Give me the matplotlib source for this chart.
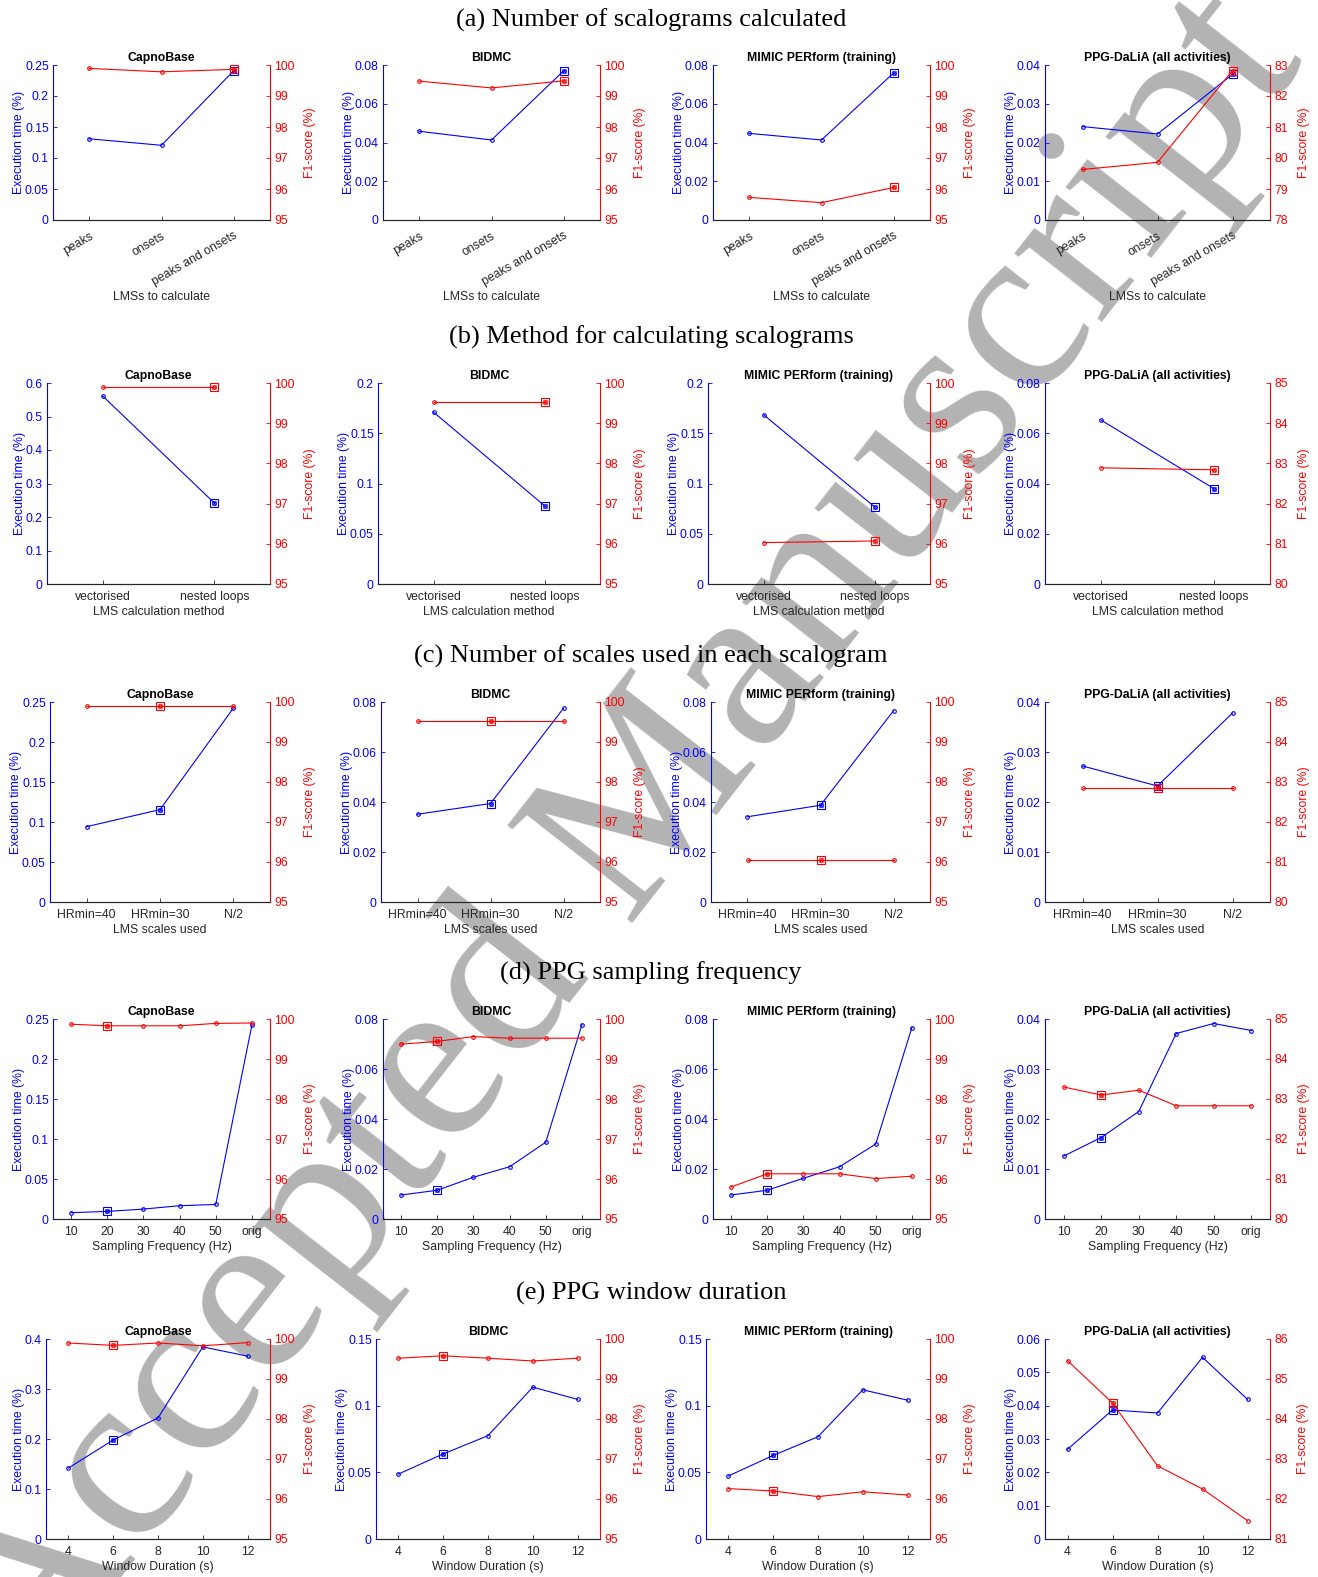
import matplotlib
matplotlib.use('Agg')
import matplotlib.pyplot as plt
from matplotlib.ticker import FuncFormatter

W, H = 1318, 1577
BLUE = '#0000ff'
RED = '#ff0000'
DARK = '#262626'
SANS = ['Liberation Sans', 'DejaVu Sans']
SERIF = ['Liberation Serif', 'DejaVu Serif']

plt.rcParams['font.family'] = SANS
plt.rcParams['font.size'] = 8.8

datasets = ['CapnoBase', 'BIDMC', 'MIMIC PERform (training)', 'PPG-DaLiA (all activities)']

# (a) number of scalograms calculated
lms_cats = ['peaks', 'onsets', 'peaks and onsets']
lms_time = [[0.131, 0.1205, 0.241], [0.0458, 0.0413, 0.0771],
            [0.0447, 0.0413, 0.0760], [0.0241, 0.0222, 0.0376]]
lms_f1 = [[99.89, 99.78, 99.86], [99.48, 99.26, 99.49],
          [95.73, 95.56, 96.05], [79.63, 79.86, 82.82]]
lms_sel = 2

# (b) method for calculating scalograms
meth_cats = ['vectorised', 'nested loops']
meth_time = [[0.561, 0.242], [0.171, 0.0779], [0.1685, 0.0768], [0.0652, 0.0380]]
meth_f1 = [[99.89, 99.89], [99.53, 99.53], [96.03, 96.07], [82.89, 82.84]]
meth_sel = 1

# (c) number of scales used in each scalogram
scale_cats = ['HRmin=40', 'HRmin=30', 'N/2']
scale_time = [[0.0942, 0.1155, 0.2423], [0.0351, 0.0394, 0.0775],
              [0.0341, 0.0387, 0.0765], [0.0272, 0.0232, 0.0378]]
scale_f1 = [[99.91, 99.91, 99.91], [99.53, 99.53, 99.53],
            [96.06, 96.06, 96.06], [82.84, 82.84, 82.84]]
scale_sel = 1

# (d) PPG sampling frequency
fs_cats = ['10', '20', '30', '40', '50', 'orig']
fs_time = [[0.0079, 0.0095, 0.0124, 0.0166, 0.0182, 0.2425],
           [0.0096, 0.0115, 0.0167, 0.0209, 0.0307, 0.0778],
           [0.0096, 0.0115, 0.0163, 0.0209, 0.0300, 0.0766],
           [0.0126, 0.0163, 0.0215, 0.0371, 0.0391, 0.0377]]
fs_f1 = [[99.87, 99.83, 99.83, 99.83, 99.89, 99.90],
         [99.37, 99.44, 99.56, 99.52, 99.52, 99.52],
         [95.80, 96.13, 96.13, 96.13, 96.01, 96.07],
         [83.30, 83.10, 83.22, 82.83, 82.83, 82.83]]
fs_sel = 1

# (e) PPG window duration
win_dur = [4, 6, 8, 10, 12]
win_time = [[0.1419, 0.198, 0.2422, 0.3842, 0.3657],
            [0.0487, 0.0638, 0.0775, 0.1139, 0.1047],
            [0.0473, 0.0627, 0.0767, 0.1119, 0.1041],
            [0.0269, 0.0387, 0.0378, 0.0545, 0.0419]]
win_f1 = [[99.90, 99.84, 99.90, 99.83, 99.91],
          [99.52, 99.58, 99.52, 99.45, 99.52],
          [96.26, 96.20, 96.06, 96.18, 96.10],
          [85.46, 84.40, 82.83, 82.25, 81.46]]
win_sel = 1

section_titles = ['(a) Number of scalograms calculated',
                  '(b) Method for calculating scalograms',
                  '(c) Number of scales used in each scalogram',
                  '(d) PPG sampling frequency',
                  '(e) PPG window duration']
xlabels = ['LMSs to calculate', 'LMS calculation method', 'LMS scales used',
           'Sampling Frequency (Hz)', 'Window Duration (s)']

# axis ranges: (max, step) for execution time, (lo, hi) for F1
time_axes = [
    [(0.25, 0.05), (0.08, 0.02), (0.08, 0.02), (0.04, 0.01)],
    [(0.6, 0.1), (0.2, 0.05), (0.2, 0.05), (0.08, 0.02)],
    [(0.25, 0.05), (0.08, 0.02), (0.08, 0.02), (0.04, 0.01)],
    [(0.25, 0.05), (0.08, 0.02), (0.08, 0.02), (0.04, 0.01)],
    [(0.4, 0.1), (0.15, 0.05), (0.15, 0.05), (0.06, 0.01)],
]
f1_axes = [
    [(95, 100)] * 3 + [(78, 83)],
    [(95, 100)] * 3 + [(80, 85)],
    [(95, 100)] * 3 + [(80, 85)],
    [(95, 100)] * 3 + [(80, 85)],
    [(95, 100)] * 3 + [(81, 86)],
]

# layout in pixels
row_tops = [65, 383, 702, 1019, 1339]
row_bots = [220, 584, 902, 1219, 1539]
title_y = [20, 337, 656, 973, 1293]
lefts = [[53, 383, 713, 1045], [47, 378, 708, 1045], [50, 381, 711, 1045],
         [53, 383, 713, 1045], [46, 376, 706, 1045]]
rights = [270, 600, 930, 1270]

fig = plt.figure(figsize=(W / 100, H / 100), dpi=100)

# watermark behind the panels
fig.text(622 / W, 1 - 842 / H, 'Accepted Manuscript', family=SERIF, fontsize=174,
         color='#b3b3b3', rotation=52, ha='center', va='center',
         rotation_mode='anchor', zorder=-10)

gfmt = FuncFormatter(lambda v, p: ('%g' % round(v, 6)))


def ticks(lo, hi, step):
    n = int(round((hi - lo) / step))
    return [lo + i * step for i in range(n + 1)]


def panel(r, c, x, xticks, xticklabels, xlim, t, f, sel, rot=0):
    l, rr = lefts[r][c], rights[c]
    rect = [l / W, 1 - row_bots[r] / H, (rr - l) / W, (row_bots[r] - row_tops[r]) / H]
    ax = fig.add_axes(rect)
    ax.set_facecolor('none')
    ax2 = ax.twinx()

    tmax, tstep = time_axes[r][c]
    flo, fhi = f1_axes[r][c]

    ax.plot(x, t, color=BLUE, lw=0.8, marker='o', ms=2.6, mfc='none', mew=0.8, zorder=3)
    ax.plot([x[sel]], [t[sel]], color=BLUE, marker='s', ms=5.5, mfc='none', mew=0.8, zorder=4)
    ax.plot([x[sel]], [t[sel]], color=BLUE, marker='x', ms=3.2, mew=0.7, zorder=4)
    ax2.plot(x, f, color=RED, lw=0.8, marker='o', ms=2.6, mfc='none', mew=0.8, zorder=3)
    ax2.plot([x[sel]], [f[sel]], color=RED, marker='s', ms=5.5, mfc='none', mew=0.8, zorder=4)
    ax2.plot([x[sel]], [f[sel]], color=RED, marker='x', ms=3.2, mew=0.7, zorder=4)

    ax.set_xlim(*xlim)
    ax.set_ylim(0, tmax)
    ax.set_yticks(ticks(0, tmax, tstep))
    ax.yaxis.set_major_formatter(gfmt)
    ax2.set_ylim(flo, fhi)
    ax2.set_yticks(ticks(flo, fhi, 1))

    ax.set_xticks(xticks)
    if rot:
        ax.set_xticklabels(xticklabels, rotation=rot, ha='right', rotation_mode='anchor')
    else:
        ax.set_xticklabels(xticklabels)

    for a in (ax, ax2):
        a.spines['top'].set_visible(False)
        a.spines['bottom'].set_color(DARK)
        a.spines['bottom'].set_linewidth(0.8)
    ax.spines['right'].set_visible(False)
    ax2.spines['left'].set_visible(False)
    ax.spines['left'].set_color(BLUE)
    ax2.spines['right'].set_color(RED)
    ax.spines['left'].set_linewidth(0.8)
    ax2.spines['right'].set_linewidth(0.8)

    ax.tick_params(axis='y', direction='in', length=3, width=0.6, colors=BLUE,
                   labelsize=8.8, pad=3)
    ax2.tick_params(axis='y', direction='in', length=3, width=0.6, colors=RED,
                    labelsize=8.8, pad=3)
    ax.tick_params(axis='x', direction='in', length=3, width=0.6, color=DARK,
                   labelcolor=DARK, labelsize=8.8, pad=7 if rot else 5)

    ax.set_ylabel('Execution time (%)', color=BLUE, fontsize=8.8, labelpad=0)
    ax2.set_ylabel('F1-score (%)', color=RED, fontsize=8.8, labelpad=7)
    ax.set_xlabel(xlabels[r], color=DARK, fontsize=8.8, labelpad=2)
    ax.set_title(datasets[c], fontsize=8.8, fontweight='bold', pad=3)


for i, txt in enumerate(section_titles):
    fig.text(651 / W, 1 - title_y[i] / H, txt, family=SERIF, fontsize=19,
             ha='center', va='center')

for c in range(4):
    panel(0, c, [1, 2, 3], [1, 2, 3], lms_cats, (0.5, 3.5),
          lms_time[c], lms_f1[c], lms_sel, rot=30)
    panel(1, c, [1, 2], [1, 2], meth_cats, (0.5, 2.5),
          meth_time[c], meth_f1[c], meth_sel)
    panel(2, c, [1, 2, 3], [1, 2, 3], scale_cats, (0.5, 3.5),
          scale_time[c], scale_f1[c], scale_sel)
    fs_x = list(range(1, len(fs_cats) + 1))
    panel(3, c, fs_x, fs_x, fs_cats, (0.5, 6.5),
          fs_time[c], fs_f1[c], fs_sel)
    panel(4, c, win_dur, win_dur, [str(v) for v in win_dur], (3, 13),
          win_time[c], win_f1[c], win_sel)

fig.savefig('out.png', dpi=100)
